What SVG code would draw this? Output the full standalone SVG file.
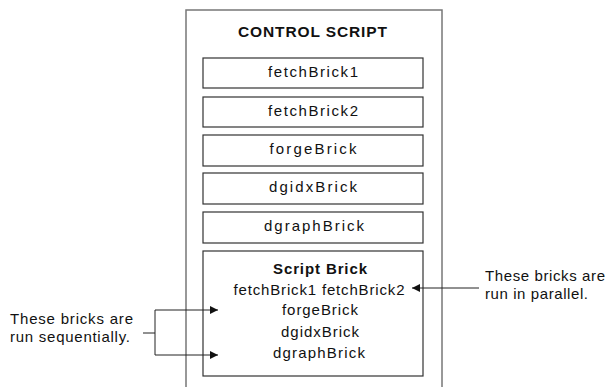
<svg xmlns="http://www.w3.org/2000/svg" width="608" height="387" viewBox="0 0 608 387">
<style>
.box{fill:#fff;stroke:#333;stroke-width:1.2}
.outer{fill:#fff;stroke:#777;stroke-width:1.5}
text{font-family:"Liberation Sans",Arial,sans-serif;font-size:15px;fill:#111}
.c{text-anchor:middle}
.b{font-weight:bold}
.title{font-weight:bold;font-size:15.5px}
.ln{fill:none;stroke:#222;stroke-width:1}
</style>
<defs>
<marker id="ah" markerWidth="8" markerHeight="8" refX="8" refY="4" orient="auto" markerUnits="userSpaceOnUse">
<path d="M0,0 L8,4 L0,8 Z" fill="#111"/>
</marker>
</defs>
<g id="control-script">
<rect class="outer" x="186" y="10" width="256" height="390"/>
<text class="c title" x="312.5" y="37" textLength="149" lengthAdjust="spacing">CONTROL SCRIPT</text>
</g>
<g id="fetchBrick1"><rect class="box" x="203" y="58" width="220" height="30"/><text class="c" x="313" y="77" textLength="90" lengthAdjust="spacing">fetchBrick1</text></g>
<g id="fetchBrick2"><rect class="box" x="203" y="97" width="220" height="30"/><text class="c" x="313" y="116" textLength="90" lengthAdjust="spacing">fetchBrick2</text></g>
<g id="forgeBrick"><rect class="box" x="203" y="135" width="220" height="31"/><text class="c" x="313" y="154" textLength="87" lengthAdjust="spacing">forgeBrick</text></g>
<g id="dgidxBrick"><rect class="box" x="203" y="173" width="220" height="31"/><text class="c" x="313" y="192" textLength="88" lengthAdjust="spacing">dgidxBrick</text></g>
<g id="dgraphBrick"><rect class="box" x="203" y="212" width="220" height="31"/><text class="c" x="314" y="231" textLength="100" lengthAdjust="spacing">dgraphBrick</text></g>
<g id="scriptBrick">
<rect class="box" x="203" y="251" width="220" height="125"/>
<text class="c b" x="320" y="274" textLength="94" lengthAdjust="spacing">Script Brick</text>
<text class="c" x="319" y="295" textLength="171" lengthAdjust="spacing">fetchBrick1 fetchBrick2</text>
<text class="c" x="320" y="315" textLength="76" lengthAdjust="spacing">forgeBrick</text>
<text class="c" x="320" y="337" textLength="78" lengthAdjust="spacing">dgidxBrick</text>
<text class="c" x="319" y="358" textLength="92" lengthAdjust="spacing">dgraphBrick</text>
</g>
<g id="note-sequential">
<text x="10" y="324" textLength="123" lengthAdjust="spacing">These bricks are</text>
<text x="10" y="342" textLength="120" lengthAdjust="spacing">run sequentially.</text>
</g>
<g id="note-parallel">
<text x="485" y="281" textLength="120" lengthAdjust="spacing">These bricks are</text>
<text x="485" y="299" textLength="103" lengthAdjust="spacing">run in parallel.</text>
</g>
<g id="connectors">
<path class="ln" d="M143,333 H155 M155,310 V355"/>
<path class="ln" d="M155,310 H218" marker-end="url(#ah)"/>
<path class="ln" d="M155,355 H218" marker-end="url(#ah)"/>
<path class="ln" d="M479,288 H412" marker-end="url(#ah)"/>
</g>
</svg>
